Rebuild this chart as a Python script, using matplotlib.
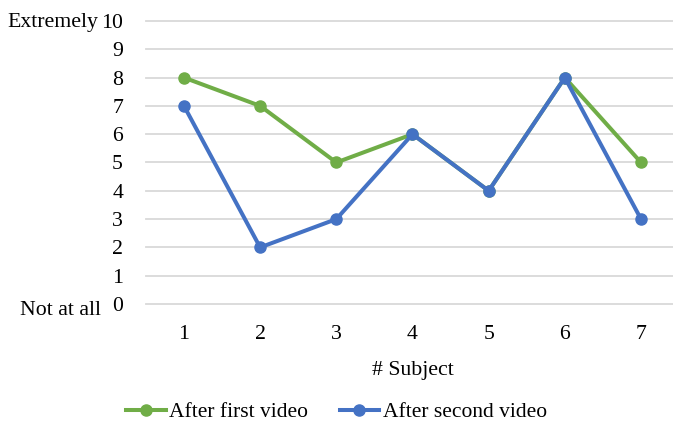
import matplotlib
matplotlib.use("Agg")
import matplotlib.pyplot as plt
import matplotlib.transforms as mtransforms
from matplotlib.lines import Line2D

subjects = [1, 2, 3, 4, 5, 6, 7]
after_first = [8, 7, 5, 6, 4, 8, 5]
after_second = [7, 2, 3, 6, 4, 8, 3]
series_names = ["After first video", "After second video"]
y_ticks = list(range(0, 11))

GREEN = "#70AD47"
BLUE = "#4472C4"
GRID = "#D9D9D9"
FS = 15.7
LW = 2.9
MS = 8

plt.rcParams["font.family"] = ["Liberation Serif", "DejaVu Serif"]

fig = plt.figure(figsize=(6.73, 4.26), dpi=100)
ax = fig.add_axes([0.2169, 0.2864, 0.7831, 0.6643])

for s in ax.spines.values():
    s.set_visible(False)

ax.set_ylim(0, 10)
ax.set_xlim(0.501, 7.42)
ax.set_yticks(y_ticks)
ax.set_xticks(subjects)
ax.set_xticklabels([str(s) for s in subjects])
ax.tick_params(axis="y", length=0, pad=16.5, labelsize=FS, colors="black")
ax.tick_params(axis="x", length=0, pad=15, labelsize=FS, colors="black")
for y in y_ticks:
    ax.axhline(y, color=GRID, lw=1.3, zorder=0, clip_on=False)

ax.plot(subjects, after_first, color=GREEN, lw=LW, marker="o", ms=MS,
        solid_capstyle="round", zorder=3, clip_on=False)
ax.plot(subjects, after_second, color=BLUE, lw=LW, marker="o", ms=MS,
        solid_capstyle="round", zorder=4, clip_on=False)

# scale end labels at the left of the value axis
tr = mtransforms.blended_transform_factory(fig.transFigure, ax.transData)
ax.text(98 / 673, 9.93, "Extremely", transform=tr, ha="right", va="center",
        fontsize=FS)
ax.text(101 / 673, -0.22, "Not at all", transform=tr, ha="right", va="center",
        fontsize=FS)

fig.text(413 / 673, 1 - 370 / 426, "# Subject", ha="center", va="center",
         fontsize=FS)

handles = [
    Line2D([], [], color=GREEN, lw=LW, marker="o", ms=MS),
    Line2D([], [], color=BLUE, lw=LW, marker="o", ms=MS),
]
fig.legend(handles, series_names, loc="center", ncol=2,
           bbox_to_anchor=(336.5 / 673, 1 - 412 / 426), frameon=False,
           fontsize=15.5, handlelength=1.85, handletextpad=0.15,
           columnspacing=1.45, borderpad=0)

fig.savefig("out.png", dpi=100, facecolor="white")
